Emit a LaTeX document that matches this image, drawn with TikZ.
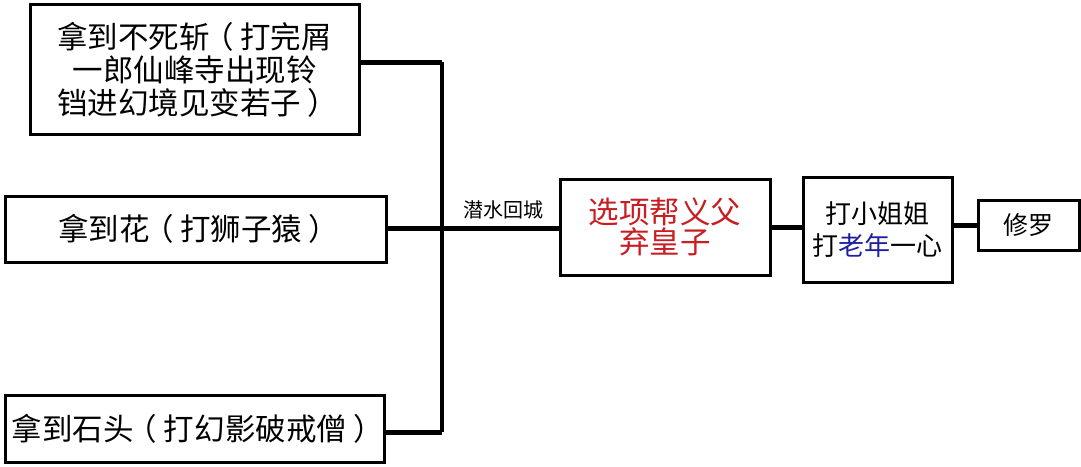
\documentclass[tikz,border=0pt]{standalone}
\usepackage{fontspec}
\newfontfamily\cjk{Noto Sans CJK SC}
\definecolor{myred}{RGB}{200,30,35}
\definecolor{myblue}{RGB}{30,30,160}
\newcommand\lpr{\makebox[1em][l]{\hspace{-0.22em}（}}
\newcommand\rpr{\makebox[1em][l]{\hspace{0.22em}）}}
\begin{document}
\begin{tikzpicture}[x=1pt,y=-1pt,
  box/.style={draw=black,line width=3pt,inner sep=0pt,align=center,font=\cjk},
  big/.style={font=\cjk\fontsize{30.5}{33}\selectfont},
  conn/.style={line width=5pt},
  bus/.style={line width=4pt}]
\useasboundingbox (0,0) rectangle (1081,466);
\fill[white] (0,0) rectangle (1081,466);
\node[box,big,minimum width=329pt,minimum height=130pt] (b1) at (194.5,69.5) {拿到不死斩\lpr 打完屑\\一郎仙峰寺出现铃\\铛进幻境见变若子\rpr};
\node[box,big,minimum width=381pt,minimum height=66pt] (b2) at (195.5,229) {拿到花\lpr 打狮子猿\rpr};
\node[box,big,minimum width=379pt,minimum height=67pt] (b3) at (194.5,428.5) {拿到石头\lpr 打幻影破戒僧\rpr};
\node[box,minimum width=210pt,minimum height=96pt,text=myred,font=\cjk\fontsize{30.5}{30}\selectfont] (b4) at (665,227) {选项帮义父\\弃皇子};
\node[box,minimum width=149pt,minimum height=105pt,font=\cjk\fontsize{26}{32}\selectfont] (b5) at (877.5,229.5) {打小姐姐\\打\textcolor{myblue}{老年}一心};
\node[box,minimum width=101pt,minimum height=50pt,font=\cjk\fontsize{25}{30}\selectfont] (b6) at (1028.5,225) {修罗};
\coordinate (j1) at (442,62);
\coordinate (j2) at (442,228);
\coordinate (j3) at (442,432);
\node[font=\cjk\fontsize{20}{24}\selectfont,inner sep=0pt] (lbl) at (503,210) {潜水回城};
\draw[bus] (j1) -- (j3);
\draw[conn] (b1.east |- j1) -- (j1);
\draw[conn] (b2.east |- j2) -- (b4.west |- j2);
\draw[conn] (b3.east |- j3) -- (j3);
\draw[conn] (b4.east) -- (b5.west |- b4.east);
\draw[conn] (b5.east |- b6.west) -- (b6.west);
\end{tikzpicture}
\end{document}
